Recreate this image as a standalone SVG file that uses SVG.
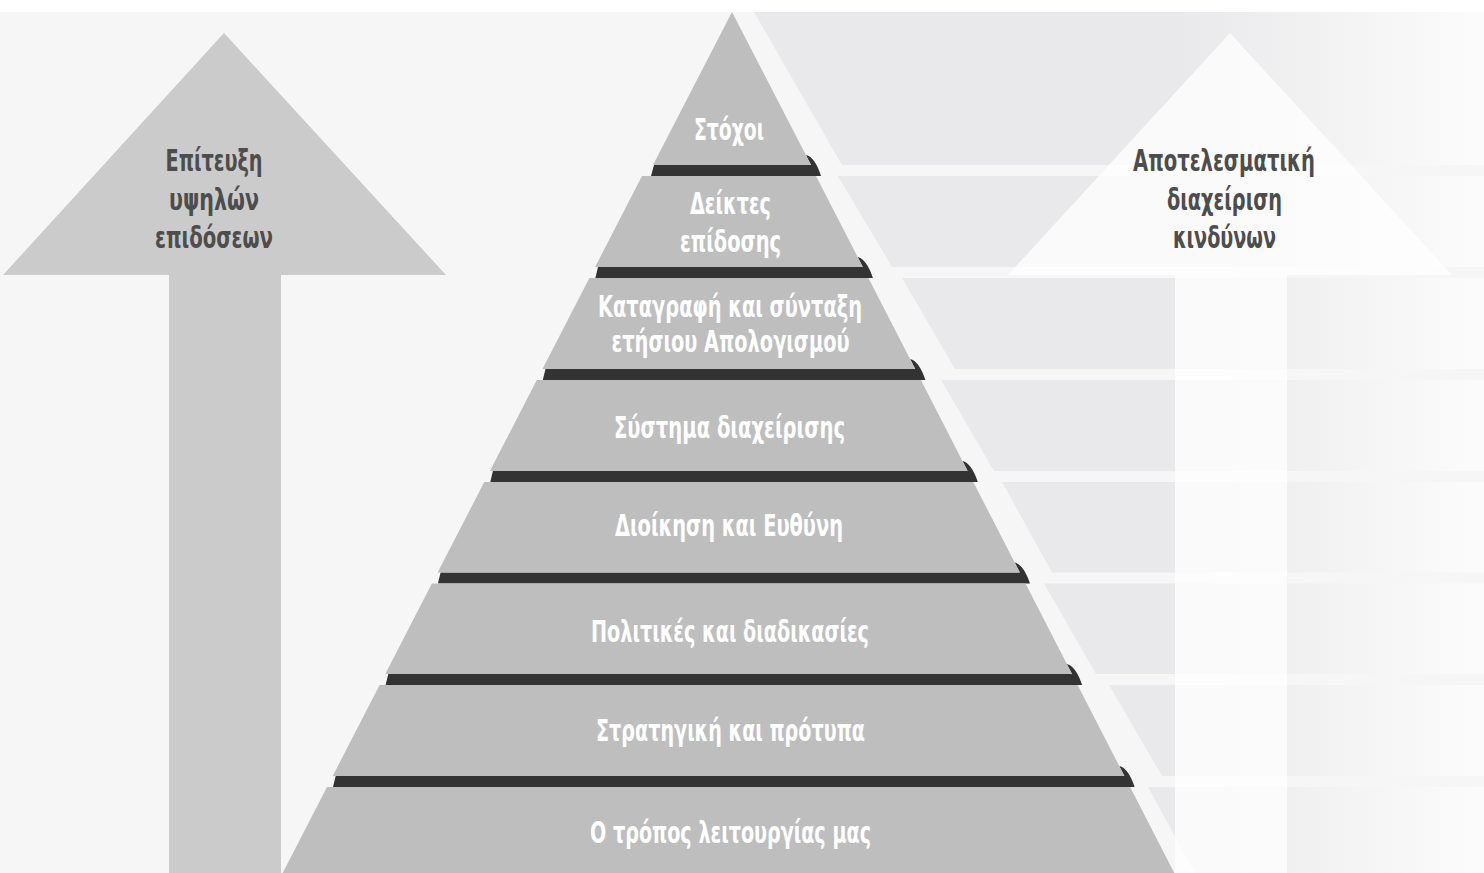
<svg xmlns="http://www.w3.org/2000/svg" width="1484" height="873" viewBox="0 0 1484 873">
<style>
.layer{fill:#bebebe}
.bar{fill:#333333}
.row{fill:url(#pg)}
.pt{font-family:"Liberation Sans Narrow","DejaVu Sans Condensed","Liberation Sans",sans-serif;font-weight:bold;font-size:30px;fill:#ffffff;text-anchor:middle}
.st{font-family:"Liberation Sans Narrow","DejaVu Sans Condensed","Liberation Sans",sans-serif;font-weight:bold;font-size:30px;fill:#4d4d4d;text-anchor:middle}
</style>
<defs>
<linearGradient id="pg" gradientUnits="userSpaceOnUse" x1="1180" y1="0" x2="1470" y2="0">
<stop offset="0" stop-color="#e9e9eb"/>
<stop offset="1" stop-color="#fbfbfb"/>
</linearGradient>
</defs>
<rect x="0" y="0" width="1484" height="873" fill="#ffffff"/>
<rect x="0" y="12" width="1484" height="861" fill="#f6f6f6"/>
<g id="panel">
<polygon class="row" points="754,12 1484,12 1484,165 842,165"/>
<polygon class="row" points="838,176 1484,176 1484,267 892,267"/>
<polygon class="row" points="902,278 1484,278 1484,369 955,369"/>
<polygon class="row" points="941,380 1484,380 1484,471 994,471"/>
<polygon class="row" points="1002,482 1484,482 1484,572.5 1052,572.5"/>
<polygon class="row" points="1044,583.5 1484,583.5 1484,674 1096,674"/>
<polygon class="row" points="1109,685 1484,685 1484,776 1162,776"/>
<polygon class="row" points="1148,787 1484,787 1484,873 1195,873"/>
</g>
<g id="arrow-left">
<polygon points="224,33 446,275 281,275 281,873 169,873 169,275 3,275" fill="#cbcbcb"/>
<text class="st" x="214" y="171" textLength="97" lengthAdjust="spacingAndGlyphs">Επίτευξη</text>
<text class="st" x="214" y="209.5" textLength="90" lengthAdjust="spacingAndGlyphs">υψηλών</text>
<text class="st" x="214" y="248" textLength="118" lengthAdjust="spacingAndGlyphs">επιδόσεων</text>
</g>
<g id="arrow-right">
<polygon points="1230,33 1452,275 1287,275 1287,873 1175,873 1175,275 1008,275" fill="#ffffff" fill-opacity="0.75"/>
<text class="st" x="1224" y="171" textLength="182" lengthAdjust="spacingAndGlyphs">Αποτελεσματική</text>
<text class="st" x="1224.5" y="209.5" textLength="115" lengthAdjust="spacingAndGlyphs">διαχείριση</text>
<text class="st" x="1224.5" y="248" textLength="103" lengthAdjust="spacingAndGlyphs">κινδύνων</text>
</g>
<g id="connectors">
<path class="bar" d="M654,165 L811,165 L806,155 Q815,157 821,176 L651,176 Z"/>
<path class="bar" d="M598,267 L862.8,267 L857.6,257 Q866.6,259 872.9,278 L595.4,278 Z"/>
<path class="bar" d="M545.5,369 L915.2,369 L910.1,359 Q919.1,361 925.4,380 L542.8,380 Z"/>
<path class="bar" d="M492.9,471 L967.6,471 L962.5,461 Q971.5,463 977.8,482 L490.3,482 Z"/>
<path class="bar" d="M440.6,572.5 L1019.8,572.5 L1014.7,562.5 Q1023.7,564.5 1030,583.5 L437.9,583.5 Z"/>
<path class="bar" d="M388.3,674 L1072,674 L1066.8,664 Q1075.8,666 1082.1,685 L385.6,685 Z"/>
<path class="bar" d="M335.7,776 L1124.4,776 L1119.3,766 Q1128.3,768 1134.6,787 L333,787 Z"/>
</g>
<g id="layer-1">
<polygon class="layer" points="732,12 811,165 653,165"/>
<text class="pt" x="729" y="139.5" textLength="70" lengthAdjust="spacingAndGlyphs">Στόχοι</text>
</g>
<g id="layer-2">
<polygon class="layer" points="642,176 816,176 862.8,267 595.1,267"/>
<text class="pt" x="730.5" y="213.5" textLength="81" lengthAdjust="spacingAndGlyphs">Δείκτες</text>
<text class="pt" x="730.5" y="251.5" textLength="101" lengthAdjust="spacingAndGlyphs">επίδοσης</text>
</g>
<g id="layer-3">
<polygon class="layer" points="589.4,278 868.4,278 915.2,369 542.5,369"/>
<text class="pt" x="730" y="316.7" textLength="264" lengthAdjust="spacingAndGlyphs">Καταγραφή και σύνταξη</text>
<text class="pt" x="730.5" y="351.7" textLength="238" lengthAdjust="spacingAndGlyphs">ετήσιου Απολογισμού</text>
</g>
<g id="layer-4">
<polygon class="layer" points="536.8,380 920.9,380 967.6,471 489.9,471"/>
<text class="pt" x="729.5" y="438" textLength="231" lengthAdjust="spacingAndGlyphs">Σύστημα διαχείρισης</text>
</g>
<g id="layer-5">
<polygon class="layer" points="484.3,482 973.3,482 1019.8,572.5 437.6,572.5"/>
<text class="pt" x="729" y="536" textLength="228" lengthAdjust="spacingAndGlyphs">Διοίκηση και Ευθύνη</text>
</g>
<g id="layer-6">
<polygon class="layer" points="431.9,583.5 1025.5,583.5 1072,674 385.3,674"/>
<text class="pt" x="730" y="642" textLength="278" lengthAdjust="spacingAndGlyphs">Πολιτικές και διαδικασίες</text>
</g>
<g id="layer-7">
<polygon class="layer" points="379.6,685 1077.6,685 1124.4,776 332.7,776"/>
<text class="pt" x="730.5" y="741" textLength="269" lengthAdjust="spacingAndGlyphs">Στρατηγική και πρότυπα</text>
</g>
<g id="layer-8">
<polygon class="layer" points="327,787 1130.1,787 1174.3,873 282.7,873"/>
<text class="pt" x="730.5" y="843" textLength="281" lengthAdjust="spacingAndGlyphs">Ο τρόπος λειτουργίας μας</text>
</g>
</svg>
